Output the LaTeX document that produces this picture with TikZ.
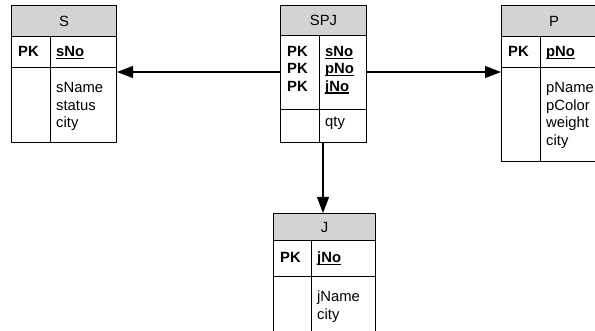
\documentclass[tikz,border=0pt]{standalone}
\usepackage{fontspec}
\setmainfont{Liberation Sans}
\usetikzlibrary{arrows.meta}
\definecolor{hdrgray}{RGB}{211,211,211}
\newcommand\keyul[1]{\setbox0\hbox{#1}\rlap{\rule[-2.4pt]{\wd0}{1.4pt}}\box0}
\begin{document}
\begin{tikzpicture}[x=1pt,y=-1pt,
  tbl/.style={draw, line width=1pt, inner sep=0pt, anchor=north west},
  hdr/.style={tbl, fill=hdrgray},
  tline/.style={line width=1pt},
  txt/.style={inner sep=0pt, anchor=base west, font=\fontsize{14.8}{17.5}\selectfont},
  htxt/.style={inner sep=0pt, font=\fontsize{14.8}{17.5}\selectfont},
  conn/.style={line width=1.2pt, -{Triangle[length=16pt,width=12pt]}}]
\clip (0,0) rectangle (595,331);
\coordinate (lineY) at (0,72);
% ---------- S ----------
\node[tbl, minimum width=105pt, minimum height=137pt] (S) at (11,5) {};
\node[hdr, minimum width=105pt, minimum height=31pt] (S-h) at (11,5) {};
\node[htxt] (S-ht) at (S-h.center) {S};
\draw[tline] (11,68) -- (116,68);
\draw[tline] (50,36) -- (50,142);
\node[txt] (S-pk) at (18,56.7) {\textbf{PK}};
\node[txt] (S-k1) at (56,56.7) {\textbf{\keyul{sNo}}};
\node[txt] (S-a1) at (56,93) {sName};
\node[txt] (S-a2) at (56,110.5) {status};
\node[txt] (S-a3) at (56,128) {city};
% ---------- SPJ ----------
\node[tbl, minimum width=86pt, minimum height=137pt] (SPJ) at (280,5) {};
\node[hdr, minimum width=86pt, minimum height=30pt] (SPJ-h) at (280,5) {};
\node[htxt] (SPJ-ht) at (SPJ-h.center) {SPJ};
\draw[tline] (280,110) -- (366,110);
\draw[tline] (319,35) -- (319,142);
\node[txt] (SPJ-pk1) at (287,56.7) {\textbf{PK}};
\node[txt] (SPJ-pk2) at (287,74) {\textbf{PK}};
\node[txt] (SPJ-pk3) at (287,91.3) {\textbf{PK}};
\node[txt] (SPJ-k1) at (325,56.7) {\textbf{\keyul{sNo}}};
\node[txt] (SPJ-k2) at (325,74) {\textbf{\keyul{pNo}}};
\node[txt] (SPJ-k3) at (325,91.3) {\textbf{\keyul{jNo}}};
\node[txt] (SPJ-a1) at (325,127) {qty};
% ---------- P ----------
\node[tbl, minimum width=105pt, minimum height=156pt] (P) at (501,5) {};
\node[hdr, minimum width=105pt, minimum height=31pt] (P-h) at (501,5) {};
\node[htxt] (P-ht) at (P-h.center) {P};
\draw[tline] (501,68) -- (606,68);
\draw[tline] (540,36) -- (540,161);
\node[txt] (P-pk) at (508,56.7) {\textbf{PK}};
\node[txt] (P-k1) at (546,56.7) {\textbf{\keyul{pNo}}};
\node[txt] (P-a1) at (546,93) {pName};
\node[txt] (P-a2) at (546,110.5) {pColor};
\node[txt] (P-a3) at (546,128) {weight};
\node[txt] (P-a4) at (546,145.5) {city};
% ---------- J ----------
\node[tbl, minimum width=102pt, minimum height=132pt] (J) at (273,213) {};
\node[hdr, minimum width=102pt, minimum height=27pt] (J-h) at (273,213) {};
\node[htxt] (J-ht) at (J-h.center) {J};
\draw[tline] (273,277) -- (375,277);
\draw[tline] (311,240) -- (311,345);
\node[txt] (J-pk) at (280,263) {\textbf{PK}};
\node[txt] (J-k1) at (317,263) {\textbf{\keyul{jNo}}};
\node[txt] (J-a1) at (317,302) {jName};
\node[txt] (J-a2) at (317,319.5) {city};
% ---------- connectors ----------
\draw[conn] (SPJ.west |- lineY) -- (S.east |- lineY);
\draw[conn] (SPJ.east |- lineY) -- (P.west |- lineY);
\coordinate (down) at (323,0);
\draw[conn] (SPJ.south -| down) -- (J.north -| down);
\end{tikzpicture}
\end{document}
